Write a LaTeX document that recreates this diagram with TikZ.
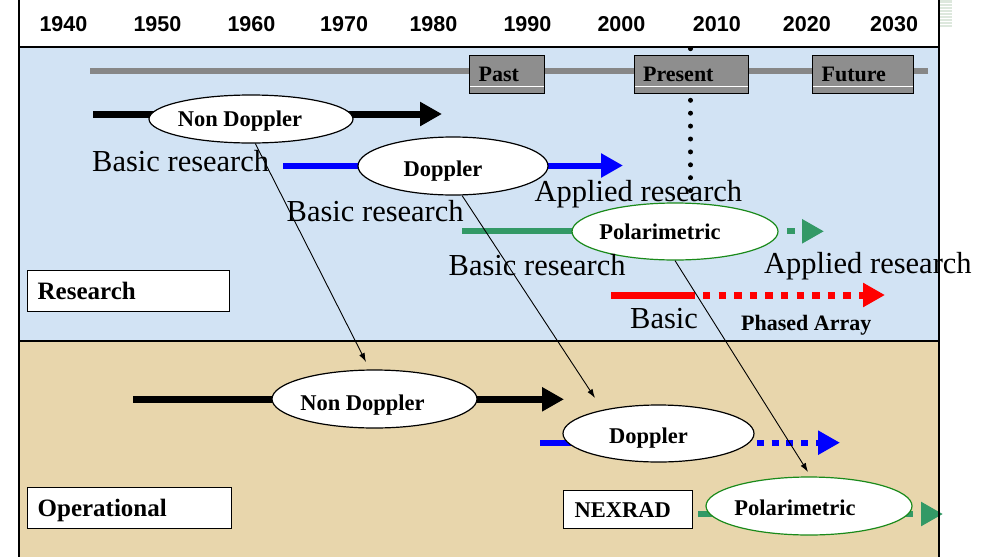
\documentclass[tikz,border=0pt]{standalone}
\usepackage{fontspec}
\setmainfont{Liberation Serif}
\newfontfamily\yearfont{Liberation Sans}
\usetikzlibrary{shapes.geometric,arrows.meta}

\definecolor{skyfill}{HTML}{D2E3F4}
\definecolor{sandfill}{HTML}{E8D6AC}
\definecolor{eragray}{HTML}{8E8E8E}
\definecolor{linegray}{HTML}{878787}
\definecolor{trackgreen}{HTML}{339966}
\definecolor{ovalgreen}{HTML}{1A8A1A}
\definecolor{stripegreen}{HTML}{DDE8DD}

% text of an oval, set a little left of the oval's centre
\newcommand\ovaltext[2]{\makebox[0pt]{#2\kern#1pt}}

\begin{document}
\begin{tikzpicture}[x=1pt,y=-1pt,
  yr/.style={anchor=base west, inner sep=0pt, font=\yearfont\bfseries\fontsize{21.5}{24}\selectfont},
  lbl/.style={anchor=base west, inner sep=0pt, font=\fontsize{30.5}{34}\selectfont},
  lblbold/.style={anchor=base west, inner sep=0pt, font=\bfseries\fontsize{22}{26}\selectfont},
  oval/.style={ellipse, draw=black, line width=1.2pt, fill=white, inner sep=0pt,
    text height=15pt, text depth=0pt, font=\bfseries\fontsize{22.5}{26}\selectfont},
  greenoval/.style={oval, draw=ovalgreen},
  tagbox/.style={rectangle, draw=black, line width=1.3pt, fill=white, anchor=north west,
    inner ysep=0pt, inner xsep=10pt, align=left, text height=16.5pt, text depth=0pt,
    font=\bfseries\fontsize{25}{28}\selectfont},
  erabox/.style={rectangle, draw=black, line width=1.2pt, fill=eragray, anchor=north west,
    minimum height=37.5pt, inner ysep=0pt, inner xsep=9pt, align=left,
    text height=14.5pt, text depth=0pt, font=\bfseries\fontsize{22}{26}\selectfont,
    path picture={\draw[white, line width=1pt]
      ([yshift=6.5pt]path picture bounding box.south west) --
      ([yshift=6.5pt]path picture bounding box.south east);}},
  track/.style={line width=7pt},
  thintrack/.style={line width=6pt},
  bighead/.style={-{Triangle[length=22pt,width=23pt]}},
  link/.style={line width=0.9pt, -{Latex[length=9pt,width=6pt]}},
  framerule/.style={line width=2pt}
]
\useasboundingbox (0,0) rectangle (993,557);

% backgrounds
\fill[white] (0,0) rectangle (993,557);
\fill[skyfill] (19,47) rectangle (939,341);
\fill[sandfill] (19,341) rectangle (939,557);
\fill[stripegreen] (940,0) rectangle (952,27);
\foreach \s in {3,6,...,27} \draw[white, line width=0.8pt] (940,\s) -- (952,\s);

% years
\foreach \xx/\yy in {39.3/1940,133.3/1950,227.3/1960,320/1970,409.3/1980,
                     503.3/1990,597.3/2000,692.7/2010,782.7/2020,870/2030}
  \node[yr] at (\xx,31.7) {\yy};

% time line with the era boxes
\coordinate (tl0) at (90,70.5);
\coordinate (tl1) at (928,70.5);
\draw[linegray, line width=6pt] (tl0) -- (tl1);
\coordinate (nowtop) at (690.5,48.7);
\coordinate (nowbot) at (690.5,192);
\draw[black, line width=5pt, line cap=round, dash pattern=on 0pt off 12.9pt] (nowtop) -- (nowbot);
\node[erabox, minimum width=75pt, text width=57pt] (past) at (469,55) {Past};
\node[erabox, minimum width=114pt, text width=96pt] (present) at (633.5,55) {Present};
\node[erabox, minimum width=101pt, text width=83pt] (future) at (812,55) {Future};

% ---- research tracks
\coordinate (rk0) at (93,114);   \coordinate (rk1) at (442,114);
\coordinate (rb0) at (283,165.5); \coordinate (rb1) at (623,165.5);
\coordinate (rg0) at (462,231.3); \coordinate (rg1) at (787,231.3); \coordinate (rg2) at (824,231.3);
\coordinate (rr0) at (611,295);  \coordinate (rr1) at (695,295);
\coordinate (rr2) at (703,295);  \coordinate (rr3) at (885,295);

\draw[track, bighead] (rk0) -- (rk1);
\draw[thintrack, blue, bighead] (rb0) -- (rb1);
\node[oval, minimum width=204pt, minimum height=48pt] (rND) at (251,119) {\ovaltext{22}{Non Doppler}};
\node[oval, minimum width=190pt, minimum height=58pt, text height=21pt] (rD) at (453,166) {\ovaltext{20}{Doppler}};
\draw[thintrack, trackgreen] (rg0) -- (675,231.3);
\draw[thintrack, trackgreen, dash pattern=on 8pt off 10pt, bighead] (rg1) -- (rg2);
\node[greenoval, minimum width=206pt, minimum height=57pt] (rP) at (675,231.5) {\ovaltext{30}{Polarimetric}};
\draw[track, red] (rr0) -- (rr1);
\draw[track, red, dash pattern=on 7.3pt off 8.3pt, bighead] (rr2) -- (rr3);

% research labels
\node[lbl] at (92,171.7) {Basic research};
\node[lbl] at (286.5,221.7) {Basic research};
\node[lbl] at (534.5,201.5) {Applied research};
\node[lbl] at (448.5,275.5) {Basic research};
\node[lbl] at (764,273.3) {Applied research};
\node[lbl] at (630,328.3) {Basic};
\node[lblbold] at (741,330) {Phased Array};
\node[tagbox, minimum width=202pt, minimum height=41pt, text width=182pt] (research) at (27,270) {Research};

% ---- operational tracks
\coordinate (ok0) at (133,399.3); \coordinate (ok1) at (564,399.3);
\coordinate (ob0) at (540,442.7); \coordinate (ob1) at (757,442.7); \coordinate (ob2) at (840,442.7);
\coordinate (og0) at (698,514);   \coordinate (og1) at (905,514);   \coordinate (og2) at (943,514);

\draw[track, bighead] (ok0) -- (ok1);
\node[oval, minimum width=205pt, minimum height=58pt, text height=22pt] (oND) at (374.5,399) {\ovaltext{24}{Non Doppler}};
\draw[thintrack, blue] (ob0) -- (658.5,442.7);
\draw[thintrack, blue, dash pattern=on 7pt off 7.7pt, bighead] (ob1) -- (ob2);
\node[oval, minimum width=191pt, minimum height=57pt, text height=19.6pt] (oD) at (658.5,433.5) {\ovaltext{20}{Doppler}};
\draw[thintrack, trackgreen] (og0) -- (809,514);
\draw[thintrack, trackgreen, dash pattern=on 8pt off 20pt, bighead] (og1) -- (og2);
\node[greenoval, minimum width=206pt, minimum height=58pt, text height=19pt] (oP) at (809,506) {\ovaltext{28}{Polarimetric}};
\node[tagbox, minimum width=129pt, minimum height=38pt, text width=107pt, inner xsep=11pt,
      font=\bfseries\fontsize{22.5}{26}\selectfont, text height=15pt] (nexrad) at (563,490) {NEXRAD};
\node[tagbox, minimum width=204pt, minimum height=41pt, text width=184pt] (operational) at (27,487) {Operational};

% research results handed over to operations
\coordinate (tipA) at (366,362);
\coordinate (tipB) at (595,398);
\coordinate (tipC) at (808,472);
\draw[link] (rND.-80) -- (tipA);
\draw[link] (rD.-73) -- (tipB);
\draw[link] (rP.south) -- (tipC);

% frame
\draw[framerule] (19,0) -- (19,557);
\draw[framerule] (939,0) -- (939,557);
\draw[framerule] (19,47) -- (939,47);
\draw[framerule] (19,341) -- (939,341);
\end{tikzpicture}
\end{document}
